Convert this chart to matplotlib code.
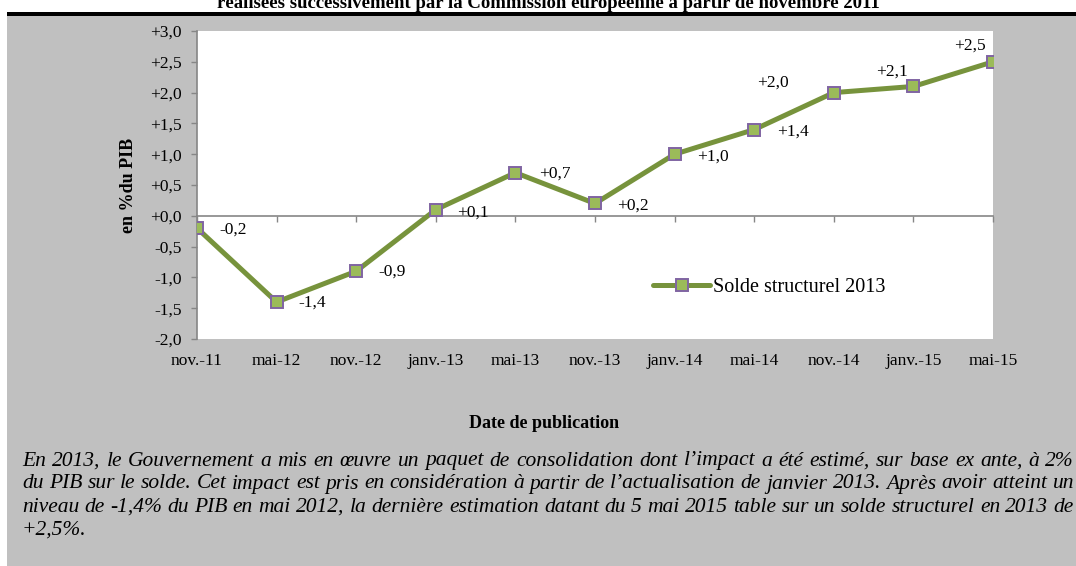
import matplotlib
matplotlib.use('Agg')
import matplotlib.pyplot as plt
from matplotlib.patches import Rectangle

# data
dates = ['nov.-11', 'mai-12', 'nov.-12', 'janv.-13', 'mai-13', 'nov.-13',
         'janv.-14', 'mai-14', 'nov.-14', 'janv.-15', 'mai-15']
solde = [-0.2, -1.4, -0.9, 0.1, 0.7, 0.2, 1.0, 1.4, 2.0, 2.1, 2.5]
yticks = [-2.0, -1.5, -1.0, -0.5, 0.0, 0.5, 1.0, 1.5, 2.0, 2.5, 3.0]

title = u"réalisées successivement par la Commission européenne à partir de novembre 2011"
serie = 'Solde structurel 2013'
ylabel = 'en %du PIB'
xlabel = 'Date de publication'
comment = [
    u"En 2013, le Gouvernement a mis en œuvre un paquet de consolidation dont l\u2019impact a été estimé, sur base ex ante, à 2%",
    u"du PIB sur le solde. Cet impact est pris en considération à partir de l\u2019actualisation de janvier 2013. Après avoir atteint un",
    u"niveau de -1,4% du PIB en mai 2012, la dernière estimation datant du 5 mai 2015 table sur un solde structurel en 2013 de",
    u"+2,5%.",
]

# label offsets in pixels (layout only)
offsets = [(36, -2), (36, -1), (36, 0), (37, -3), (39, -1), (38, -2),
           (38, -2), (39, -2), (-61, 10), (-21, 15), (-23, 16)]

W, H = 1076, 566
SERIF = 'Liberation Serif'
GREY = '#C0C0C0'
AXGREY = '#868686'


def fmt(v):
    return ('%+.1f' % v).replace('.', ',')


def px(x, y):
    return x / W, 1 - y / H


fig = plt.figure(figsize=(W / 100, H / 100), dpi=100, facecolor='white')
plt.rcParams['font.family'] = SERIF

# background
fig.patches.append(Rectangle(px(7, H), (W - 7) / W, (H - 15) / H, transform=fig.transFigure,
                             facecolor=GREY, edgecolor='none', zorder=-10))
fig.patches.append(Rectangle(px(7, 15.5), (W - 7) / W, 3 / H, transform=fig.transFigure,
                             facecolor='black', edgecolor='none', zorder=-9))
fig.text(*px(548, 7.5), title, ha='center', va='baseline', fontsize=13.5,
         fontweight='bold', family=SERIF)

x0, x1, y0, y1 = 197, 993, 31, 339
ax = fig.add_axes([x0 / W, 1 - y1 / H, (x1 - x0) / W, (y1 - y0) / H])
ax.set_facecolor('white')
xs = list(range(len(dates)))
ax.plot(xs, solde, color='#77933C', lw=3.6, marker='s', markersize=8.6,
        markerfacecolor='#9BBB59', markeredgecolor='#8064A2', markeredgewidth=1.4,
        label=serie, zorder=3, solid_capstyle='round')
ax.set_xlim(0, len(dates) - 1)
ax.set_ylim(-2, 3)

for sp in ['top', 'right', 'bottom']:
    ax.spines[sp].set_visible(False)
ax.spines['left'].set_color(AXGREY)
ax.spines['left'].set_linewidth(1.2)
ax.set_yticks(yticks)
ax.set_yticklabels([fmt(v) for v in yticks], fontsize=12.5)
ax.tick_params(axis='y', direction='out', length=4, width=1, color=AXGREY, pad=7)

ax.set_xticks(xs)
ax.set_xticklabels(dates, fontsize=12.5)
ax.tick_params(axis='x', length=0, pad=10)

# zero axis with tick marks
sec = ax.secondary_xaxis(2 / 5)
sec.set_xticks(xs)
sec.set_xticklabels([])
sec.tick_params(axis='x', direction='out', length=4, width=1, color=AXGREY)
sec.spines['bottom'].set_color(AXGREY)
sec.spines['bottom'].set_linewidth(1.2)

for i, v in enumerate(solde):
    ax.annotate(fmt(v), (xs[i], v), xytext=offsets[i], textcoords='offset pixels',
                ha='center', va='center', fontsize=12.5, zorder=4)

ax.set_ylabel(ylabel, fontsize=13, fontweight='bold')
ax.yaxis.set_label_coords((137 - x0) / (x1 - x0), 0.5)

leg = ax.legend(loc='center left', bbox_to_anchor=((653 - x0) / (x1 - x0), (y1 - 287) / (y1 - y0)),
                frameon=False, fontsize=14.5, handlelength=2.85, handletextpad=0.15,
                borderpad=0, borderaxespad=0)

fig.text(*px(544, 424), xlabel, ha='center', va='center', fontsize=13, fontweight='bold')

# justified comment
fig.canvas.draw()
renderer = fig.canvas.get_renderer()
left, right = 22, 1074
line_y = [461, 484, 507, 530]
for k, line in enumerate(comment):
    words = line.split(' ')
    if k == len(comment) - 1 or len(words) < 2:
        fig.text(*px(left, line_y[k]), line, ha='left', va='center', fontsize=15.5, style='italic')
        continue
    texts = [fig.text(0, 0, w, ha='left', va='center', fontsize=15.5, style='italic') for w in words]
    widths = [t.get_window_extent(renderer).width for t in texts]
    gap = (right - left - sum(widths)) / (len(words) - 1)
    xpos = left
    for t, wd in zip(texts, widths):
        t.set_position(px(xpos, line_y[k]))
        xpos += wd + gap

fig.savefig('out.png', dpi=100, facecolor=fig.get_facecolor())
